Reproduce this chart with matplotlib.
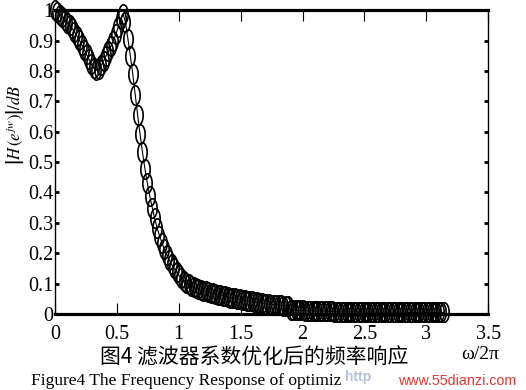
"""Frequency response of the optimised filter (figure 4)."""

import numpy as np
import matplotlib
matplotlib.use("Agg")
import matplotlib.pyplot as plt
from matplotlib.path import Path

# normalised frequency grid, 0..pi
freq = np.linspace(0, np.pi, 161)

# magnitude
magnitude = [
    1.000, 0.993, 0.985, 0.977, 0.968, 0.959, 0.950, 0.940, 0.928, 0.915,
    0.901, 0.886, 0.870, 0.854, 0.838, 0.822, 0.808, 0.802, 0.806, 0.818,
    0.833, 0.849, 0.865, 0.882, 0.900, 0.920, 0.944, 0.970, 0.988, 0.960,
    0.905, 0.850, 0.790, 0.722, 0.655, 0.592, 0.532, 0.478, 0.430, 0.388,
    0.350, 0.315, 0.284, 0.258, 0.234, 0.213, 0.195, 0.178, 0.163, 0.150,
    0.138, 0.127, 0.118, 0.110, 0.103, 0.097, 0.092, 0.088, 0.084, 0.081,
    0.078, 0.076, 0.074, 0.072, 0.070, 0.068, 0.066, 0.064, 0.062, 0.060,
    0.058, 0.056, 0.054, 0.053, 0.051, 0.050, 0.048, 0.047, 0.045, 0.044,
    0.042, 0.041, 0.039, 0.038, 0.037, 0.035, 0.034, 0.033, 0.032, 0.031,
    0.030, 0.030, 0.029, 0.028, 0.027, 0.027, 0.026, 0.013, 0.013, 0.012,
    0.012, 0.012, 0.012, 0.011, 0.011, 0.011, 0.011, 0.010, 0.010, 0.010,
    0.010, 0.010, 0.009, 0.009, 0.009, 0.007, 0.007, 0.007, 0.007, 0.007,
    0.007, 0.007, 0.007, 0.007, 0.007, 0.006, 0.006, 0.006, 0.006, 0.006,
    0.006, 0.006, 0.006, 0.006, 0.006, 0.006, 0.006, 0.006, 0.006, 0.006,
    0.006, 0.006, 0.006, 0.006, 0.006, 0.005, 0.005, 0.005, 0.005, 0.005,
    0.005, 0.005, 0.005, 0.005, 0.005, 0.005, 0.005, 0.005, 0.005, 0.005,
    0.005,
]

xticks = [0, 0.5, 1, 1.5, 2, 2.5, 3, 3.5]
xtick_labels = ["0", "0.5", "1", "1.5", "2", "2.5", "3", "3.5"]
yticks = [0, 0.1, 0.2, 0.3, 0.4, 0.5, 0.6, 0.7, 0.8, 0.9, 1.0]
ytick_labels = ["0", "0.1", "0.2", "0.3", "0.4", "0.5", "0.6", "0.7", "0.8", "0.9", "1"]

caption_cn = "图4 滤波器系数优化后的频率响应"
caption_en = "Figure4 The Frequency Response of optimiz"
site = "www.55dianzi.com"

plt.rcParams["font.family"] = ["Liberation Serif", "DejaVu Serif"]
plt.rcParams["mathtext.fontset"] = "stix"

# tall, narrow ellipse marker (the picture was squeezed sideways)
t = np.linspace(0, 2 * np.pi, 40)
ellipse = Path(np.column_stack([0.48 * np.cos(t), np.sin(t)]), closed=True)

fig = plt.figure(figsize=(5.26, 3.90), dpi=100)
ax = fig.add_axes([0.1046, 0.195, 0.8234, 0.779])

ax.plot(freq, magnitude, color="black", lw=0.8, marker=ellipse, ms=14,
        mfc="none", mec="black", mew=1.2, clip_on=False, zorder=3)

ax.set_xlim(0, 3.5)
ax.set_ylim(0, 1)
ax.set_xticks(xticks)
ax.set_xticklabels(xtick_labels, fontsize=14.5)
ax.set_yticks(yticks)
ax.set_yticklabels(ytick_labels, fontsize=14.5)
ax.tick_params(axis="x", direction="in", length=8, width=0.8, pad=8,
               top=True)
ax.tick_params(axis="y", direction="in", length=3, width=2, pad=1,
               right=True)

for side in ("top", "bottom"):
    ax.spines[side].set_linewidth(2.3)
for side in ("left", "right"):
    ax.spines[side].set_linewidth(1.0)

fig.text(0.03, 0.68, r"$\left|H\,(e^{jw})\right|/dB$", rotation=90,
         ha="center", va="center", fontsize=12)

fig.text(0.913, 0.09, "ω/2π", ha="center", va="center", fontsize=14)

fig.text(0.19, 0.083, caption_cn, ha="left", va="center", fontsize=15,
         family=["Noto Sans CJK SC", "DejaVu Sans"])
fig.text(0.058, 0.024, caption_en, ha="left", va="center", fontsize=12.5)
fig.text(0.655, 0.034, "http", ha="left", va="center", fontsize=10,
         color="#b4c2d6", family="Liberation Sans", weight="bold")
fig.text(0.757, 0.024, site, ha="left", va="center", fontsize=10.3,
         color="#e03a32", family="Liberation Sans")

fig.savefig("out.png", dpi=100)
